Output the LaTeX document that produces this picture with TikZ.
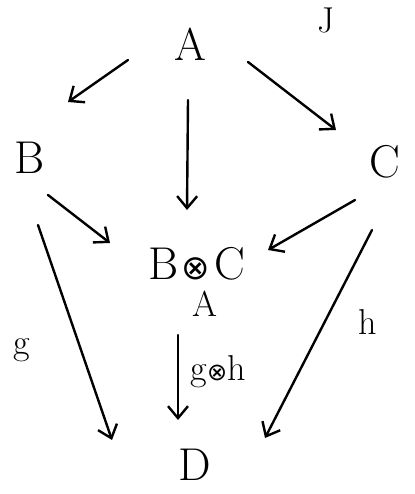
\documentclass[tikz,border=0pt]{standalone}
\usepackage{fontspec}
\newfontfamily\symfont{DejaVu Sans}
\usetikzlibrary{arrows.meta}
\begin{document}
\begin{tikzpicture}[x=1pt,y=-1pt,
  obj/.style={inner sep=0pt,font=\fontsize{46}{48}\selectfont},
  lbl/.style={inner sep=0pt,font=\fontsize{36}{38}\selectfont},
  arr/.style={line width=2.4pt,line cap=round,-{Straight Barb[length=12pt,width=20pt,line width=2.4pt]}}]
\useasboundingbox (0,0) rectangle (414,494);
\node[obj] (A) at (190,44) {A};
\node[obj] (B) at (30,158) {B};
\node[obj] (C) at (385,162) {C};
\node[obj] (M) at (197,264) {B\kern3pt{\symfont\fontsize{34}{36}\selectfont ⊗}\kern4pt C};
\node[lbl] (Msub) at (205,304) {A};
\node[obj] (D) at (195,465) {D};
\node[lbl] (J) at (326,20) {J};
\coordinate (ab1) at (128,60); \coordinate (ab2) at (68,102);
\coordinate (ac1) at (248,62); \coordinate (ac2) at (336,130);
\coordinate (am1) at (188,100); \coordinate (am2) at (187,210);
\coordinate (bm1) at (48,195); \coordinate (bm2) at (110,243);
\coordinate (cm1) at (355,200); \coordinate (cm2) at (268,250);
\coordinate (bd1) at (38,225); \coordinate (bd2) at (112,440);
\coordinate (cd1) at (372,230); \coordinate (cd2) at (265,438);
\coordinate (md1) at (178,335); \coordinate (md2) at (178,420);
\draw[arr] (ab1) -- (ab2);
\draw[arr] (ac1) -- (ac2);
\draw[arr] (am1) -- (am2);
\draw[arr] (bm1) -- (bm2);
\draw[arr] (cm1) -- (cm2);
\draw[arr] (bd1) -- (bd2);
\draw[arr] (cd1) -- (cd2);
\draw[arr] (md1) -- (md2);
\node[lbl] (g) at (22,350) {g};
\node[lbl] (h) at (368,322) {h};
\node[lbl] (gh) at (218,372) {g{\symfont\fontsize{24}{26}\selectfont ⊗}h};
\end{tikzpicture}
\end{document}
